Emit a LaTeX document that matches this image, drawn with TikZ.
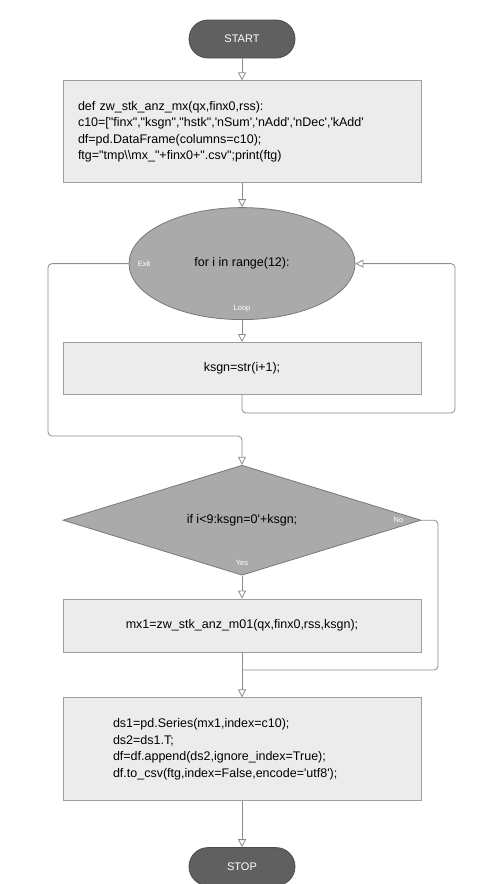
\documentclass[tikz,border=0pt]{standalone}
\usepackage{fontspec}
\setmainfont{Liberation Sans}[Ligatures=TeXOff]
\usepackage{xcolor}
\usetikzlibrary{arrows.meta, positioning, shapes.geometric}
\definecolor{termgrey}{RGB}{96,96,96}
\definecolor{termedge}{RGB}{74,74,74}
\definecolor{testgrey}{RGB}{170,170,170}
\definecolor{testedge}{RGB}{120,120,120}
\definecolor{stepgrey}{RGB}{236,236,236}
\definecolor{stepedge}{RGB}{158,158,158}
\definecolor{linegrey}{RGB}{140,140,140}

\begin{document}
\begin{tikzpicture}[
x=1pt, y=-1pt,
font=\fontsize{12.5}{16.5}\selectfont,
texts/.style = {text=black},
tagtexts/.style = {text=white, font=\fontsize{7.5}{9}\selectfont, inner sep=0pt},
flowline/.style = {draw=linegrey, line width=0.8pt},
flowarrow/.style = {flowline, -{Triangle[open, length=8pt, width=8pt]}},
terminal/.style = {rectangle, rounded corners=19pt, minimum width=106pt, minimum height=38pt, fill=termgrey, draw=termedge, line width=0.8pt, text=white, font=\fontsize{11}{13}\selectfont},
stepbox/.style = {texts, rectangle, minimum width=358pt, fill=stepgrey, draw=stepedge, line width=0.8pt},
loopnode/.style = {texts, ellipse, minimum width=226pt, minimum height=112pt, fill=testgrey, draw=testedge, line width=0.8pt},
testnode/.style = {texts, diamond, aspect=3.2, minimum width=358pt, minimum height=110pt, inner sep=0pt, fill=testgrey, draw=testedge, line width=0.8pt}
]
\useasboundingbox (0,0) rectangle (491,884);

\node[terminal] (start) at (242,39) {START};
\node[stepbox, below=22pt of start, minimum height=102pt, align=left, text width=328pt, inner xsep=15pt] (init) {%
def zw\_stk\_anz\_mx(qx,finx0,rss):\\
c10=["finx","ksgn","hstk",'nSum','nAdd','nDec','kAdd'\\
df=pd.DataFrame(columns=c10);\\
ftg="tmp\textbackslash\textbackslash mx\_"+finx0+".csv";print(ftg)};
\node[loopnode, below=24pt of init] (loop) {for i in range(12):};
\node[stepbox, below=22pt of loop, minimum height=52pt] (body) {ksgn=str(i+1);};
\node[testnode, below=70pt of body] (cond) {if i<9:ksgn=0'+ksgn;};
\node[stepbox, below=23pt of cond, minimum height=53pt] (call) {mx1=zw\_stk\_anz\_m01(qx,finx0,rss,ksgn);};
\node[stepbox, below=45pt of call, minimum height=103pt, align=left, text width=258pt, inner xsep=50pt] (store) {%
ds1=pd.Series(mx1,index=c10);\\
ds2=ds1.T;\\
df=df.append(ds2,ignore\_index=True);\\
df.to\_csv(ftg,index=False,encode='utf8');};
\node[terminal, below=46pt of store] (stop) {STOP};

% branch tags
\node[tagtexts, right=9pt of loop.west] (exittag) {Exit};
\node[tagtexts, above=8pt of loop.south] (looptag) {Loop};
\node[tagtexts, left=18pt of cond.east] (notag) {No};
\node[tagtexts, above=10pt of cond.south] (yestag) {Yes};

\draw[flowarrow] (start) -- (init);
\draw[flowarrow] (init) -- (loop);
\draw[flowarrow] (loop) -- (body);
\coordinate (exitbend) at (48,436);
\draw[flowarrow, rounded corners=4pt] (loop.west) -| (exitbend) -| (cond.north);
\coordinate (backbend) at (455,413);
\draw[flowarrow, rounded corners=4pt] (body.south) |- (backbend) |- (loop.east);
\draw[flowarrow] (cond) -- (call);
\coordinate (nobend) at (438,670);
\coordinate (join) at (242,670);
\draw[flowline, rounded corners=4pt] (cond.east) -| (nobend) -- (join);
\draw[flowarrow] (call) -- (store);
\draw[flowarrow] (store) -- (stop);
\end{tikzpicture}
\end{document}
